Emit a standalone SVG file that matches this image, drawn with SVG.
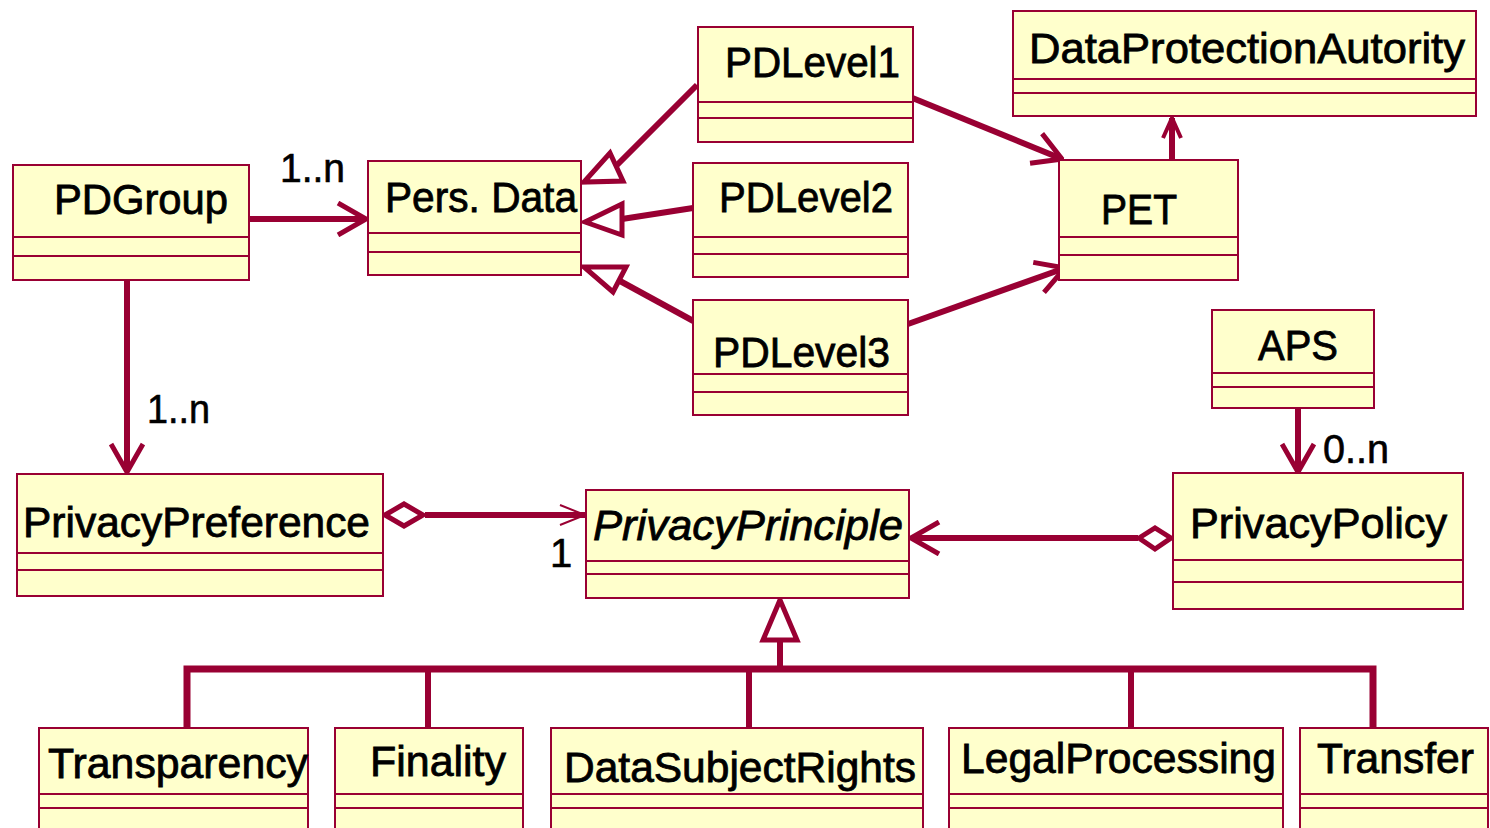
<svg xmlns="http://www.w3.org/2000/svg" width="1490" height="828" viewBox="0 0 1490 828">
<style>
.box{fill:#FFFFCC;stroke:#990033;stroke-width:2}
.sep{stroke:#990033;stroke-width:2}
.t{font-family:"Liberation Sans",Arial,sans-serif;font-size:42px;fill:#000;stroke:#000;stroke-width:0.8}
.lbl{font-family:"Liberation Sans",Arial,sans-serif;font-size:40px;fill:#000;stroke:#000;stroke-width:0.6}
.ln{fill:none;stroke:#990033;stroke-width:6}
.hol{fill:#fff;stroke:#990033;stroke-width:5;stroke-linejoin:miter}
</style>
<defs>
<marker id="open" markerUnits="userSpaceOnUse" viewBox="0 0 32 36" refX="30" refY="18" markerWidth="32" markerHeight="36" orient="auto">
<path d="M2,2 L30,18 L2,34" fill="none" stroke="#990033" stroke-width="5"/>
</marker>
<marker id="opensm" markerUnits="userSpaceOnUse" viewBox="0 0 24 24" refX="22" refY="12" markerWidth="24" markerHeight="24" orient="auto">
<path d="M2,3 L22,12 L2,21" fill="none" stroke="#990033" stroke-width="4"/>
</marker>
</defs>

<g id="connectors">
<line class="ln" x1="249" y1="219" x2="366" y2="219" marker-end="url(#open)"/>
<line class="ln" x1="127" y1="280" x2="127" y2="472" marker-end="url(#open)"/>
<line class="ln" x1="697" y1="85" x2="616" y2="166"/>
<polygon class="hol" points="584,182 610,153 623,181"/>
<line class="ln" x1="693" y1="208" x2="622" y2="219"/>
<polygon class="hol" points="585,222 622,204 622,235"/>
<line class="ln" x1="697" y1="323" x2="620" y2="281"/>
<polygon class="hol" points="584,267 626,267 613,292"/>
<line class="ln" x1="910" y1="97" x2="1062" y2="159" marker-end="url(#open)"/>
<line class="ln" x1="908" y1="324" x2="1065" y2="268" marker-end="url(#open)"/>
<line class="ln" x1="1172" y1="160" x2="1172" y2="118" stroke-width="5" marker-end="url(#opensm)"/>
<line class="ln" x1="1298" y1="408" x2="1298" y2="472" marker-end="url(#open)"/>
<line class="ln" x1="425" y1="515" x2="585" y2="515"/>
<path d="M560,505 L585,515 L560,525" fill="none" stroke="#990033" stroke-width="2"/>
<polygon class="hol" points="385,515 404,504 423,515 404,526"/>
<line class="ln" x1="1138" y1="538" x2="911" y2="538" marker-end="url(#open)"/>
<polygon class="hol" points="1139,538 1155,528 1171,538 1155,549"/>
<path d="M187,728 L187,669 L1373,669 L1373,728" fill="none" stroke="#990033" stroke-width="7"/>
<line class="ln" x1="428" y1="669" x2="428" y2="728"/>
<line class="ln" x1="749" y1="669" x2="749" y2="728"/>
<line class="ln" x1="1131" y1="669" x2="1131" y2="728"/>
<line class="ln" x1="780" y1="669" x2="780" y2="640"/>
<polygon class="hol" points="780,600 797,640 763,640"/>
<text class="lbl" x="280" y="182" textLength="65" lengthAdjust="spacingAndGlyphs">1..n</text>
<text class="lbl" x="147" y="423" textLength="63" lengthAdjust="spacingAndGlyphs">1..n</text>
<text class="lbl" x="1323" y="463" textLength="66" lengthAdjust="spacingAndGlyphs">0..n</text>
<text class="lbl" x="550" y="567">1</text>
</g>

<g id="PDGroup">
<rect class="box" x="13" y="165" width="236" height="115"/>
<line class="sep" x1="13" y1="237" x2="249" y2="237"/>
<line class="sep" x1="13" y1="256" x2="249" y2="256"/>
<text class="t" x="54" y="214" textLength="174" lengthAdjust="spacingAndGlyphs">PDGroup</text>
</g>
<g id="PersData">
<rect class="box" x="368" y="161" width="213" height="114"/>
<line class="sep" x1="368" y1="233" x2="581" y2="233"/>
<line class="sep" x1="368" y1="252" x2="581" y2="252"/>
<text class="t" x="385" y="212" textLength="192" lengthAdjust="spacingAndGlyphs">Pers. Data</text>
</g>
<g id="PDLevel1">
<rect class="box" x="698" y="27" width="215" height="115"/>
<line class="sep" x1="698" y1="102" x2="913" y2="102"/>
<line class="sep" x1="698" y1="118" x2="913" y2="118"/>
<text class="t" x="725" y="77" textLength="175" lengthAdjust="spacingAndGlyphs">PDLevel1</text>
</g>
<g id="PDLevel2">
<rect class="box" x="693" y="163" width="215" height="114"/>
<line class="sep" x1="693" y1="237" x2="908" y2="237"/>
<line class="sep" x1="693" y1="254" x2="908" y2="254"/>
<text class="t" x="719" y="212" textLength="174" lengthAdjust="spacingAndGlyphs">PDLevel2</text>
</g>
<g id="PDLevel3">
<rect class="box" x="693" y="300" width="215" height="115"/>
<line class="sep" x1="693" y1="374" x2="908" y2="374"/>
<line class="sep" x1="693" y1="392" x2="908" y2="392"/>
<text class="t" x="713" y="367" textLength="177" lengthAdjust="spacingAndGlyphs">PDLevel3</text>
</g>
<g id="DataProtectionAutority">
<rect class="box" x="1013" y="11" width="463" height="105"/>
<line class="sep" x1="1013" y1="79" x2="1476" y2="79"/>
<line class="sep" x1="1013" y1="93" x2="1476" y2="93"/>
<text class="t" x="1029" y="63" textLength="436" lengthAdjust="spacingAndGlyphs">DataProtectionAutority</text>
</g>
<g id="PET">
<rect class="box" x="1059" y="160" width="179" height="120"/>
<line class="sep" x1="1059" y1="237" x2="1238" y2="237"/>
<line class="sep" x1="1059" y1="255" x2="1238" y2="255"/>
<text class="t" x="1101" y="224" textLength="76" lengthAdjust="spacingAndGlyphs">PET</text>
</g>
<g id="APS">
<rect class="box" x="1212" y="310" width="162" height="98"/>
<line class="sep" x1="1212" y1="373" x2="1374" y2="373"/>
<line class="sep" x1="1212" y1="387" x2="1374" y2="387"/>
<text class="t" x="1258" y="360" textLength="80" lengthAdjust="spacingAndGlyphs">APS</text>
</g>
<g id="PrivacyPolicy">
<rect class="box" x="1173" y="473" width="290" height="136"/>
<line class="sep" x1="1173" y1="560" x2="1463" y2="560"/>
<line class="sep" x1="1173" y1="582" x2="1463" y2="582"/>
<text class="t" x="1190" y="538" textLength="257" lengthAdjust="spacingAndGlyphs">PrivacyPolicy</text>
</g>
<g id="PrivacyPreference">
<rect class="box" x="17" y="474" width="366" height="122"/>
<line class="sep" x1="17" y1="553" x2="383" y2="553"/>
<line class="sep" x1="17" y1="570" x2="383" y2="570"/>
<text class="t" x="23" y="537" textLength="347" lengthAdjust="spacingAndGlyphs">PrivacyPreference</text>
</g>
<g id="PrivacyPrinciple">
<rect class="box" x="586" y="490" width="323" height="108"/>
<line class="sep" x1="586" y1="561" x2="909" y2="561"/>
<line class="sep" x1="586" y1="574" x2="909" y2="574"/>
<text class="t" x="593" y="540" font-style="italic" textLength="310" lengthAdjust="spacingAndGlyphs">PrivacyPrinciple</text>
</g>
<g id="Transparency">
<rect class="box" x="39" y="728" width="269" height="112"/>
<line class="sep" x1="39" y1="794" x2="308" y2="794"/>
<line class="sep" x1="39" y1="808" x2="308" y2="808"/>
<text class="t" x="48" y="778" textLength="260" lengthAdjust="spacingAndGlyphs">Transparency</text>
</g>
<g id="Finality">
<rect class="box" x="335" y="728" width="188" height="112"/>
<line class="sep" x1="335" y1="794" x2="523" y2="794"/>
<line class="sep" x1="335" y1="808" x2="523" y2="808"/>
<text class="t" x="370" y="776" textLength="136" lengthAdjust="spacingAndGlyphs">Finality</text>
</g>
<g id="DataSubjectRights">
<rect class="box" x="551" y="728" width="372" height="112"/>
<line class="sep" x1="551" y1="794" x2="923" y2="794"/>
<line class="sep" x1="551" y1="808" x2="923" y2="808"/>
<text class="t" x="564" y="782" textLength="352" lengthAdjust="spacingAndGlyphs">DataSubjectRights</text>
</g>
<g id="LegalProcessing">
<rect class="box" x="949" y="728" width="334" height="112"/>
<line class="sep" x1="949" y1="794" x2="1283" y2="794"/>
<line class="sep" x1="949" y1="808" x2="1283" y2="808"/>
<text class="t" x="961" y="773" textLength="315" lengthAdjust="spacingAndGlyphs">LegalProcessing</text>
</g>
<g id="Transfer">
<rect class="box" x="1300" y="728" width="188" height="112"/>
<line class="sep" x1="1300" y1="794" x2="1488" y2="794"/>
<line class="sep" x1="1300" y1="808" x2="1488" y2="808"/>
<text class="t" x="1317" y="773" textLength="157" lengthAdjust="spacingAndGlyphs">Transfer</text>
</g>
</svg>
